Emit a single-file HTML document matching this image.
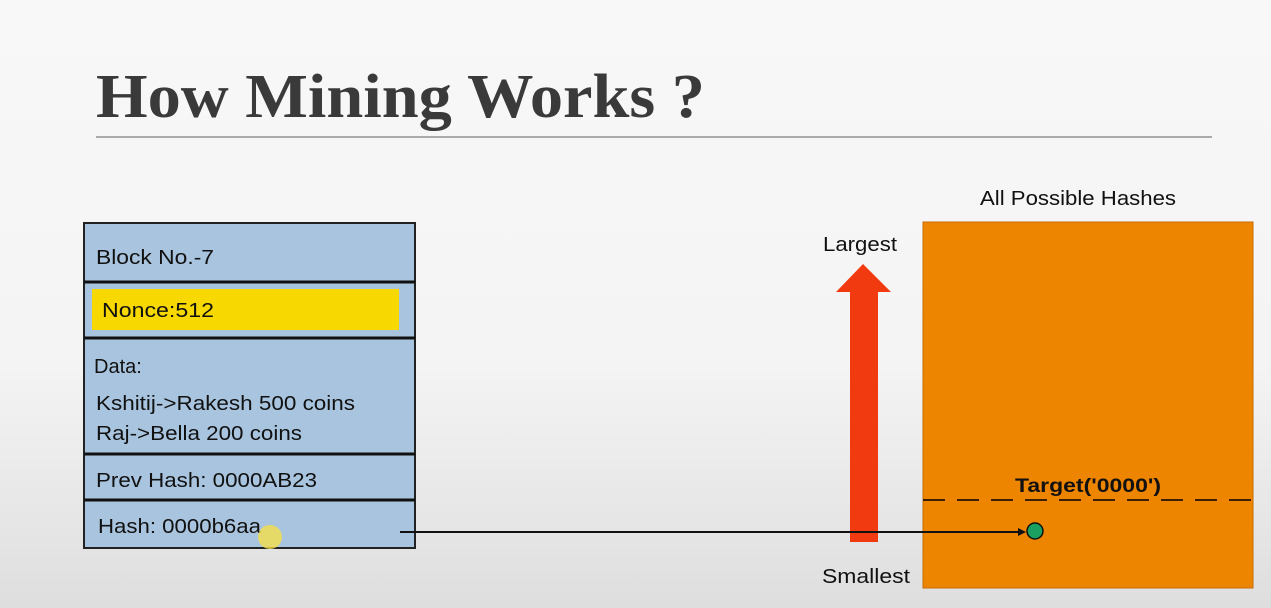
<!DOCTYPE html>
<html><head><style>
body{margin:0;width:1271px;height:608px;overflow:hidden;background:linear-gradient(#f8f8f8 0%,#f4f4f4 60%,#dedede 100%);}
svg{position:absolute;left:0;top:0}
</style></head><body>
<svg width="1271" height="608" xmlns="http://www.w3.org/2000/svg">
<text x="96" y="117" font-family="Liberation Serif, serif" font-weight="bold" font-size="62" textLength="609" lengthAdjust="spacingAndGlyphs" fill="#3a3a3a">How Mining Works ?</text>
<line x1="96" y1="137" x2="1212" y2="137" stroke="#aaa" stroke-width="2"/>
<rect x="84" y="223" width="331" height="325" fill="#a9c4de" stroke="#222" stroke-width="2"/>
<g stroke="#111" stroke-width="3">
<line x1="84" y1="282" x2="415" y2="282"/>
<line x1="84" y1="338" x2="415" y2="338"/>
<line x1="84" y1="454" x2="415" y2="454"/>
<line x1="84" y1="500" x2="415" y2="500"/>
</g>
<rect x="92" y="289" width="307" height="41" fill="#f7d800"/>
<g font-family="Liberation Sans, sans-serif" font-size="20" fill="#111">
<text x="96" y="264" textLength="118" lengthAdjust="spacingAndGlyphs">Block No.-7</text>
<text x="102" y="317" textLength="112" lengthAdjust="spacingAndGlyphs">Nonce:512</text>
<text x="94" y="373">Data:</text>
<text x="96" y="410" textLength="259" lengthAdjust="spacingAndGlyphs">Kshitij-&gt;Rakesh 500 coins</text>
<text x="96" y="440" textLength="206" lengthAdjust="spacingAndGlyphs">Raj-&gt;Bella 200 coins</text>
<text x="96" y="487" textLength="221" lengthAdjust="spacingAndGlyphs">Prev Hash: 0000AB23</text>
<text x="98" y="533" textLength="163" lengthAdjust="spacingAndGlyphs">Hash: 0000b6aa</text>
</g>
<circle cx="270" cy="537" r="12" fill="#f4e04a" opacity="0.8"/>
<rect x="923" y="222" width="330" height="366" fill="#ee8500" stroke="#c66a00"/>
<polygon points="850,542 878,542 878,292 891,292 863,264 836,292 850,292" fill="#f23a10"/>
<line x1="400" y1="532" x2="1022" y2="532" stroke="#111" stroke-width="2"/>
<polygon points="1026,532 1018,528 1018,536" fill="#111"/>
<line x1="923" y1="500" x2="1253" y2="500" stroke="#3a2000" stroke-width="2" stroke-dasharray="22,12"/>
<circle cx="1035" cy="531" r="8" fill="#1aa060" stroke="#111" stroke-width="1.5"/>
<g font-family="Liberation Sans, sans-serif" font-size="20" fill="#111">
<text x="1078" y="205" text-anchor="middle" textLength="196" lengthAdjust="spacingAndGlyphs">All Possible Hashes</text>
<text x="860" y="251" text-anchor="middle" textLength="74" lengthAdjust="spacingAndGlyphs">Largest</text>
<text x="866" y="583" text-anchor="middle" textLength="88" lengthAdjust="spacingAndGlyphs">Smallest</text>
<text x="1088" y="492" text-anchor="middle" font-weight="bold" font-size="19" textLength="146" lengthAdjust="spacingAndGlyphs">Target('0000')</text>
</g>
</svg>
</body></html>
